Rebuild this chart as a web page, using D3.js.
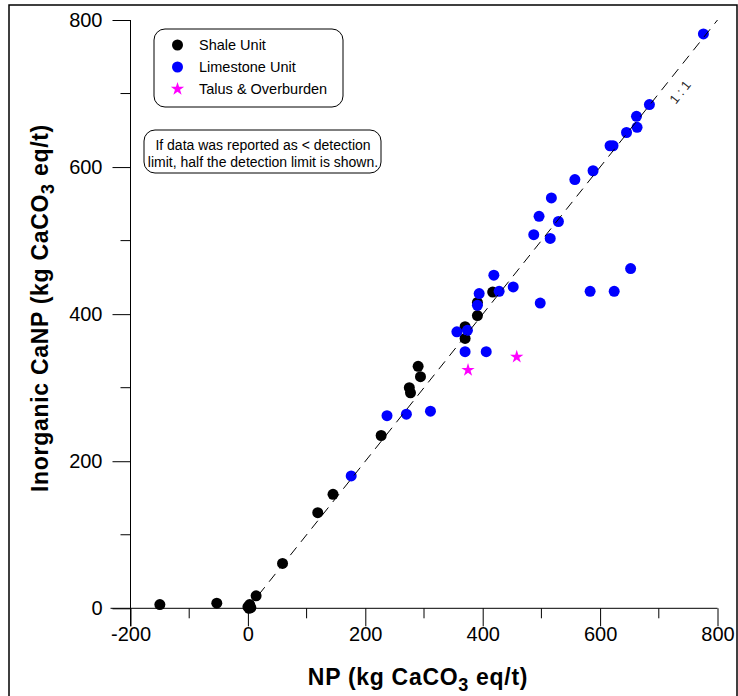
<!DOCTYPE html>
<html>
<head>
<meta charset="utf-8">
<script src="https://cdn.jsdelivr.net/npm/d3@7"></script>
<style>
  body { margin: 0; background: #fff; }
  svg { display: block; font-family: "Liberation Sans", Arial, sans-serif; }
</style>
</head>
<body>
<div id="container"></div>
<script>
const w = 738;
const h = 696;

// data: [NP, Inorganic CaNP]
const shaleUnit = [
  [-150, 5], [-53, 7], [0, 2], [3, 5], [5, 1], [2, 0], [14, 17],
  [59, 61], [119, 130], [145, 155], [227, 235],
  [275, 300], [277, 293], [290, 329], [294, 315],
  [370, 383], [370, 367], [391, 398], [391, 416], [417, 430]
];
const limestoneUnit = [
  [176, 180], [237, 262], [270, 264], [311, 268],
  [356, 376], [374, 378], [370, 349], [406, 349],
  [394, 428], [391, 412], [419, 453], [428, 431], [452, 437],
  [498, 415], [487, 508], [515, 503], [496, 533], [529, 526],
  [517, 558], [557, 583], [588, 595], [617, 629], [622, 629],
  [645, 647], [663, 654], [662, 669], [684, 685], [776, 781],
  [583, 431], [624, 431], [652, 462]
];
const talusOverburden = [[375, 324], [458, 342]];

const xTicks = [-200, 0, 200, 400, 600, 800];
const xMinor = [-100, 100, 300, 500, 700];
const yTicks = [0, 200, 400, 600, 800];
const yMinor = [100, 300, 500, 700];

const legendItems = [
  { label: "Shale Unit", color: "#000000", shape: "circle" },
  { label: "Limestone Unit", color: "#0000ff", shape: "circle" },
  { label: "Talus & Overburden", color: "#ff00ff", shape: "star" }
];
const noteLines = [
  "If data was reported as < detection",
  "limit, half the detection limit is shown."
];

const xScale = d3.scaleLinear().domain([-200, 800]).range([130.5, 717.5]);
const yScale = d3.scaleLinear().domain([0, 800]).range([608.3, 20]);

const svg = d3
  .select("#container")
  .append("svg")
  .attr("width", w)
  .attr("height", h);

// page frame
svg
  .append("rect")
  .attr("x", 9)
  .attr("y", 5)
  .attr("width", 728)
  .attr("height", 710)
  .attr("fill", "none")
  .attr("stroke", "#000")
  .attr("stroke-width", 1.5);

// x axis
const xAxis = svg
  .append("g")
  .attr("transform", `translate(0, ${yScale(0)})`)
  .call(
    d3.axisBottom(xScale).tickValues(xTicks).tickFormat((d) => String(d))
      .tickSize(18).tickPadding(1).tickSizeOuter(0)
  );
xAxis.select(".domain").attr("d", `M${xScale(-200) - 20},0H${xScale(800)}`);
xAxis
  .selectAll(".minor")
  .data(xMinor)
  .enter()
  .append("line")
  .attr("x1", (d) => xScale(d))
  .attr("x2", (d) => xScale(d))
  .attr("y2", 10)
  .attr("stroke", "#000");

// y axis
const yAxis = svg
  .append("g")
  .attr("transform", `translate(${xScale(-200)}, 0)`)
  .call(
    d3.axisLeft(yScale).tickValues(yTicks).tickFormat((d) => String(d))
      .tickSize(18).tickPadding(10).tickSizeOuter(0)
  );
yAxis.select(".domain").attr("d", `M0,${yScale(800)}V${yScale(0) + 18}`);
yAxis
  .selectAll(".minor")
  .data(yMinor)
  .enter()
  .append("line")
  .attr("y1", (d) => yScale(d))
  .attr("y2", (d) => yScale(d))
  .attr("x2", -10)
  .attr("stroke", "#000");

svg.selectAll(".tick text")
  .style("font-size", "20px")
  .style("font-family", "Liberation Sans, Arial, sans-serif")
  .attr("fill", "#000");

// axis titles
const xTitle = svg
  .append("text")
  .attr("x", 418)
  .attr("y", 685)
  .attr("text-anchor", "middle")
  .style("font-size", "23px")
  .style("letter-spacing", "0.7px")
  .style("font-weight", "bold");
xTitle.append("tspan").text("NP (kg CaCO");
xTitle.append("tspan").attr("dy", 6).style("font-size", "18px").text("3");
xTitle.append("tspan").attr("dy", -6).text(" eq/t)");

const yTitle = svg
  .append("text")
  .attr("transform", `translate(48, 308) rotate(-90)`)
  .attr("text-anchor", "middle")
  .style("font-size", "23px")
  .style("letter-spacing", "0.7px")
  .style("font-weight", "bold");
yTitle.append("tspan").text("Inorganic CaNP (kg CaCO");
yTitle.append("tspan").attr("dy", 6).style("font-size", "18px").text("3");
yTitle.append("tspan").attr("dy", -6).text(" eq/t)");

// points
const r = 5.5;
svg
  .append("g")
  .selectAll("circle")
  .data(shaleUnit)
  .enter()
  .append("circle")
  .attr("cx", (d) => xScale(d[0]))
  .attr("cy", (d) => yScale(d[1]))
  .attr("r", r)
  .attr("fill", "#000");

svg
  .append("g")
  .selectAll("circle")
  .data(limestoneUnit)
  .enter()
  .append("circle")
  .attr("cx", (d) => xScale(d[0]))
  .attr("cy", (d) => yScale(d[1]))
  .attr("r", r)
  .attr("fill", "#0000ff");

const star = d3.symbol().type(d3.symbolStar).size(55);
svg
  .append("g")
  .selectAll("path")
  .data(talusOverburden)
  .enter()
  .append("path")
  .attr("d", star)
  .attr("transform", (d) => `translate(${xScale(d[0])},${yScale(d[1])})`)
  .attr("fill", "#ff00ff");

// 1:1 line
svg
  .append("line")
  .attr("x1", xScale(0))
  .attr("y1", yScale(0))
  .attr("x2", xScale(800))
  .attr("y2", yScale(800))
  .attr("stroke", "#000")
  .attr("stroke-width", 1)
  .attr("stroke-dasharray", "10,7");

const angle = (Math.atan2(yScale(800) - yScale(0), xScale(800) - xScale(0)) * 180) / Math.PI;
svg
  .append("text")
  .attr("transform", `translate(${xScale(702) + 20}, ${yScale(702)}) rotate(${angle})`)
  .attr("text-anchor", "middle")
  .attr("dy", "0.35em")
  .style("font-size", "13px")
  .attr("fill", "#222")
  .text("1 : 1");

// legend
const legend = svg.append("g");
legend
  .append("rect")
  .attr("x", 154)
  .attr("y", 29)
  .attr("width", 189)
  .attr("height", 78)
  .attr("rx", 11)
  .attr("fill", "#fff")
  .attr("stroke", "#000");
legendItems.forEach((item, i) => {
  const cy = 45 + i * 22;
  if (item.shape === "circle") {
    legend.append("circle").attr("cx", 177.5).attr("cy", cy).attr("r", r).attr("fill", item.color);
  } else {
    legend
      .append("path")
      .attr("d", star)
      .attr("transform", `translate(177.5,${cy})`)
      .attr("fill", item.color);
  }
  legend
    .append("text")
    .attr("x", 199)
    .attr("y", cy)
    .attr("dy", "0.35em")
    .style("font-size", "14.5px")
    .text(item.label);
});

// note box
const note = svg.append("g");
note
  .append("rect")
  .attr("x", 144)
  .attr("y", 130)
  .attr("width", 237)
  .attr("height", 43)
  .attr("rx", 11)
  .attr("fill", "#fff")
  .attr("stroke", "#000");
noteLines.forEach((line, i) => {
  note
    .append("text")
    .attr("x", 263)
    .attr("y", 150 + i * 16.5)
    .attr("text-anchor", "middle")
    .style("font-size", "14px")
    .text(line);
});
</script>
</body>
</html>
